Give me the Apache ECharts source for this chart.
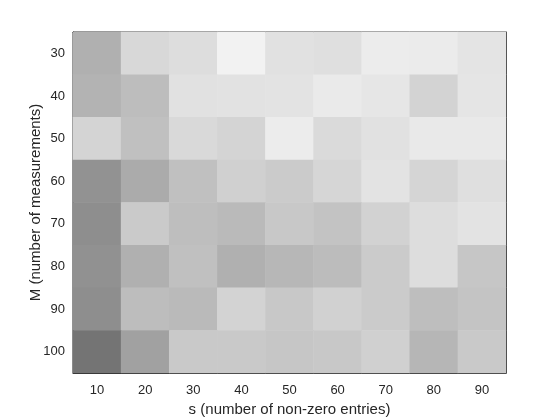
<!DOCTYPE html>
<html>
<head>
<meta charset="utf-8">
<script src="https://cdn.jsdelivr.net/npm/echarts@6/dist/echarts.min.js"></script>
<style>
  html, body { margin: 0; padding: 0; background: #fff; }
  #main { width: 560px; height: 420px; }
</style>
</head>
<body>
<div id="main"></div>
<script>
// s values (columns) and M values (rows)
var sList = ['10', '20', '30', '40', '50', '60', '70', '80', '90'];
var mList = ['30', '40', '50', '60', '70', '80', '90', '100'];

// gray level of every cell (0 = black, 255 = white), one row per M
var row30  = [176, 216, 221, 242, 225, 223, 236, 235, 228];
var row40  = [179, 189, 225, 226, 227, 234, 230, 211, 229];
var row50  = [212, 192, 217, 212, 236, 218, 225, 233, 233];
var row60  = [146, 171, 192, 208, 203, 214, 227, 213, 223];
var row70  = [142, 202, 190, 186, 200, 195, 210, 221, 227];
var row80  = [145, 176, 192, 176, 183, 188, 203, 221, 198];
var row90  = [142, 189, 186, 211, 200, 209, 203, 190, 196];
var row100 = [116, 161, 201, 201, 198, 200, 208, 182, 201];
var rows = [row30, row40, row50, row60, row70, row80, row90, row100];

var cells = [];
for (var r = 0; r < rows.length; r++) {
    for (var c = 0; c < sList.length; c++) {
        cells.push([c, r, rows[r][c]]);
    }
}

var textColor = '#262626';
var font = 'Liberation Sans';

var myChart = echarts.init(document.getElementById('main'));
var option = {
    animation: false,
    textStyle: { fontFamily: font },
    grid: {
        left: 73, top: 32, width: 433, height: 341,
        outerBoundsMode: 'none',
        containLabel: false,
        show: true, borderColor: textColor, borderWidth: 1, backgroundColor: 'transparent'
    },
    xAxis: [{
        type: 'category',
        data: sList,
        position: 'bottom',
        name: 's (number of non-zero entries)',
        nameLocation: 'middle',
        nameMoveOverlap: false,
        nameGap: 29,
        nameTextStyle: { color: textColor, fontSize: 15, fontFamily: font },
        axisLine: { lineStyle: { color: textColor } },
        axisTick: { inside: true, alignWithLabel: true, length: 4, lineStyle: { color: textColor } },
        axisLabel: { color: textColor, fontSize: 13, margin: 11, fontFamily: font },
        splitLine: { show: false }
    }, {
        type: 'category',
        data: sList,
        position: 'top',
        axisLine: { lineStyle: { color: textColor } },
        axisTick: { inside: true, alignWithLabel: true, length: 4, lineStyle: { color: textColor } },
        axisLabel: { show: false }
    }],
    yAxis: [{
        type: 'category',
        data: mList,
        inverse: true,
        position: 'left',
        name: 'M (number of measurements)',
        nameLocation: 'middle',
        nameMoveOverlap: false,
        nameGap: 30,
        nameTextStyle: { color: textColor, fontSize: 15, fontFamily: font },
        axisLine: { lineStyle: { color: textColor } },
        axisTick: { inside: true, alignWithLabel: true, length: 4, lineStyle: { color: textColor } },
        axisLabel: { color: textColor, fontSize: 13, margin: 8, fontFamily: font },
        splitLine: { show: false }
    }, {
        type: 'category',
        data: mList,
        inverse: true,
        position: 'right',
        axisLine: { lineStyle: { color: textColor } },
        axisTick: { inside: true, alignWithLabel: true, length: 4, lineStyle: { color: textColor } },
        axisLabel: { show: false }
    }],
    visualMap: {
        show: false,
        min: 0,
        max: 255,
        dimension: 2,
        inRange: { color: ['#000000', '#ffffff'] }
    },
    series: [{
        type: 'heatmap',
        data: cells,
        itemStyle: { borderWidth: 0 },
        emphasis: { disabled: true }
    }]
};
myChart.setOption(option);
</script>
</body>
</html>
